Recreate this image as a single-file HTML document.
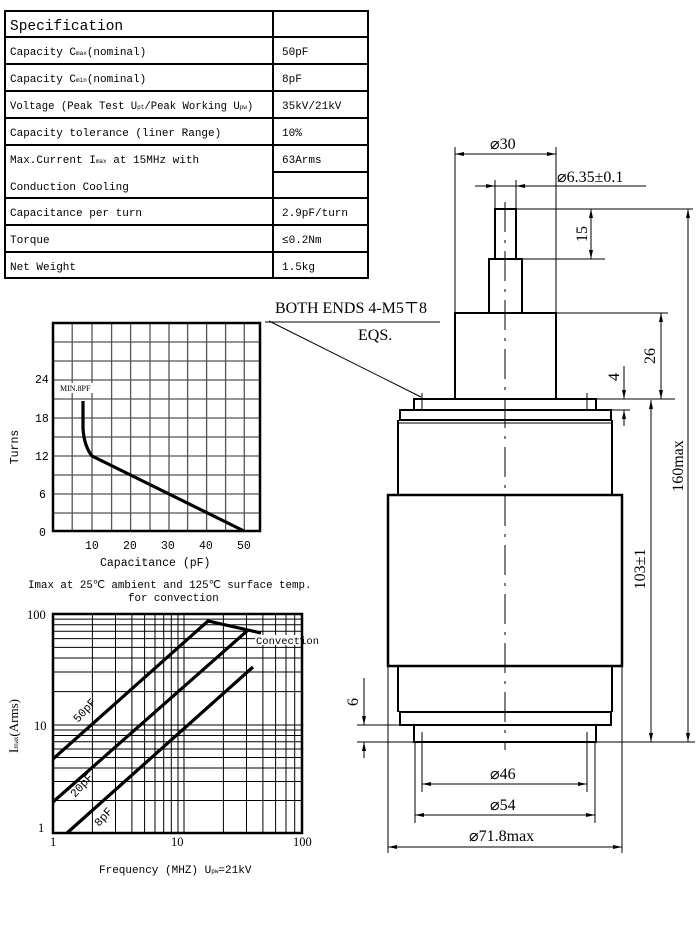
<!DOCTYPE html>
<html><head><meta charset="utf-8"><style>
html,body{margin:0;padding:0;background:#fff;}
svg{display:block;}
.m{font-family:"Liberation Mono","DejaVu Sans Mono",monospace;}
.s{font-family:"Liberation Serif","DejaVu Serif",serif;}
</style></head><body>
<svg width="698" height="927" viewBox="0 0 698 927" xmlns="http://www.w3.org/2000/svg">
<!-- Table -->
<g stroke="#000" stroke-width="2" fill="none">
<rect x="5" y="11" width="363" height="267"/>
<line x1="273" y1="11" x2="273" y2="278"/>
<line x1="5" y1="37" x2="368" y2="37"/>
<line x1="5" y1="64" x2="368" y2="64"/>
<line x1="5" y1="91" x2="368" y2="91"/>
<line x1="5" y1="118" x2="368" y2="118"/>
<line x1="5" y1="145" x2="368" y2="145"/>
<line x1="273" y1="172" x2="368" y2="172"/>
<line x1="5" y1="198" x2="368" y2="198"/>
<line x1="5" y1="225" x2="368" y2="225"/>
<line x1="5" y1="252" x2="368" y2="252"/>
</g>
<g class="m" font-size="11" fill="#000">
<text x="10" y="30" font-size="14.5">Specification</text>
<text x="10" y="55">Capacity C<tspan font-size="6">max</tspan>(nominal)</text>
<text x="10" y="82">Capacity C<tspan font-size="6">min</tspan>(nominal)</text>
<text x="10" y="109" font-size="10.6">Voltage (Peak Test U<tspan font-size="6">pt</tspan>/Peak Working U<tspan font-size="6">pw</tspan>)</text>
<text x="10" y="136">Capacity tolerance (liner Range)</text>
<text x="10" y="163">Max.Current I<tspan font-size="6">max</tspan> at 15MHz with</text>
<text x="10" y="190">Conduction Cooling</text>
<text x="10" y="216">Capacitance per turn</text>
<text x="10" y="243">Torque</text>
<text x="10" y="270">Net Weight</text>
<text x="282" y="55">50pF</text>
<text x="282" y="82">8pF</text>
<text x="282" y="109">35kV/21kV</text>
<text x="282" y="136">10%</text>
<text x="282" y="163">63Arms</text>
<text x="282" y="216">2.9pF/turn</text>
<text x="282" y="243">≤0.2Nm</text>
<text x="282" y="270">1.5kg</text>
</g>

<!-- Chart 1 -->
<g stroke="#555" stroke-width="1.3">
<line x1="72.2" y1="323" x2="72.2" y2="531"/><line x1="92" y1="323" x2="92" y2="531"/>
<line x1="111.6" y1="323" x2="111.6" y2="531"/><line x1="130.6" y1="323" x2="130.6" y2="531"/>
<line x1="150" y1="323" x2="150" y2="531"/><line x1="169" y1="323" x2="169" y2="531"/>
<line x1="187.6" y1="323" x2="187.6" y2="531"/><line x1="206.6" y1="323" x2="206.6" y2="531"/>
<line x1="225.6" y1="323" x2="225.6" y2="531"/><line x1="244.3" y1="323" x2="244.3" y2="531"/>
<line x1="53" y1="342" x2="260" y2="342"/><line x1="53" y1="361" x2="260" y2="361"/>
<line x1="53" y1="380" x2="260" y2="380"/><line x1="53" y1="399" x2="260" y2="399"/>
<line x1="53" y1="418" x2="260" y2="418"/><line x1="53" y1="437" x2="260" y2="437"/>
<line x1="53" y1="456" x2="260" y2="456"/><line x1="53" y1="475" x2="260" y2="475"/>
<line x1="53" y1="494" x2="260" y2="494"/><line x1="53" y1="513" x2="260" y2="513"/>
</g>
<rect x="53" y="323" width="207" height="208" fill="none" stroke="#000" stroke-width="2.5"/>
<rect x="58" y="383" width="40" height="10" fill="#fff"/>
<text x="60" y="391" class="s" font-size="8">MIN.8PF</text>
<path d="M83 401 L83 428 Q84 446 92 456 L244 531" fill="none" stroke="#000" stroke-width="3.2"/>
<g class="m" font-size="11.5" fill="#000">
<text x="35" y="383">24</text><text x="35" y="422">18</text><text x="35" y="460">12</text>
<text x="39" y="498">6</text><text x="39" y="536">0</text>
<text x="85" y="549">10</text><text x="123" y="549">20</text><text x="161" y="549">30</text>
<text x="199" y="549">40</text><text x="237" y="549">50</text>
<text x="100" y="566">Capacitance (pF)</text>
<text x="28" y="588" font-size="10.8">Imax at 25℃ ambient and 125℃ surface temp.</text>
<text x="128" y="601" font-size="10.8">for convection</text>
<text transform="translate(18,447) rotate(-90)" text-anchor="middle">Turns</text>
</g>

<!-- Chart 2 -->
<g stroke="#000" stroke-width="1">
<line x1="92.4" y1="614" x2="92.4" y2="833"/><line x1="115.5" y1="614" x2="115.5" y2="833"/>
<line x1="131.9" y1="614" x2="131.9" y2="833"/><line x1="144.6" y1="614" x2="144.6" y2="833"/>
<line x1="155" y1="614" x2="155" y2="833"/><line x1="163.7" y1="614" x2="163.7" y2="833"/>
<line x1="171.3" y1="614" x2="171.3" y2="833"/><line x1="178" y1="614" x2="178" y2="833"/>
<line x1="184" y1="614" x2="184" y2="833"/><line x1="223.4" y1="614" x2="223.4" y2="833"/>
<line x1="246.5" y1="614" x2="246.5" y2="833"/><line x1="262.9" y1="614" x2="262.9" y2="833"/>
<line x1="275.6" y1="614" x2="275.6" y2="833"/><line x1="286" y1="614" x2="286" y2="833"/>
<line x1="294.7" y1="614" x2="294.7" y2="833"/>
<line x1="53" y1="800.5" x2="302" y2="800.5"/><line x1="53" y1="781.5" x2="302" y2="781.5"/>
<line x1="53" y1="768" x2="302" y2="768"/><line x1="53" y1="757.5" x2="302" y2="757.5"/>
<line x1="53" y1="749" x2="302" y2="749"/><line x1="53" y1="741.7" x2="302" y2="741.7"/>
<line x1="53" y1="735.5" x2="302" y2="735.5"/><line x1="53" y1="730" x2="302" y2="730"/>
<line x1="53" y1="725" x2="302" y2="725"/>
<line x1="53" y1="691.6" x2="302" y2="691.6"/><line x1="53" y1="672" x2="302" y2="672"/>
<line x1="53" y1="658" x2="302" y2="658"/><line x1="53" y1="647.4" x2="302" y2="647.4"/>
<line x1="53" y1="638.6" x2="302" y2="638.6"/><line x1="53" y1="631.2" x2="302" y2="631.2"/>
<line x1="53" y1="624.8" x2="302" y2="624.8"/><line x1="53" y1="619.1" x2="302" y2="619.1"/>
</g>
<rect x="53" y="614" width="249" height="219" fill="none" stroke="#000" stroke-width="2.5"/>
<g stroke="#000" stroke-width="3.2" fill="none">
<path d="M53 759 L208 621 L261 633"/>
<path d="M53 802 L247 631"/>
<path d="M67 833 L253 667"/>
</g>
<rect x="255" y="635" width="45" height="10" fill="#fff"/>
<g class="m" font-size="10.5" fill="#000">
<text x="256" y="644">Convection</text>
<text transform="translate(78,723) rotate(-48)" font-size="11.5">50pF</text>
<text transform="translate(75,798) rotate(-48)" font-size="11.5">20pF</text>
<text transform="translate(99,827) rotate(-48)" font-size="11.5">8pF</text>
<text x="99" y="873" font-size="11">Frequency (MHZ) U<tspan font-size="6">pw</tspan>=21kV</text>
</g>
<g class="s" font-size="12.5" fill="#000">
<text x="27" y="619">100</text><text x="34" y="730">10</text><text x="38" y="832">1</text>
<text x="50" y="846">1</text><text x="171" y="846">10</text><text x="293" y="846">100</text>
<text transform="translate(18,726) rotate(-90)" text-anchor="middle" font-size="13">I<tspan font-size="7">max</tspan>(Arms)</text>
</g>

<!-- Drawing body -->
<g stroke="#000" stroke-width="2" fill="none">
<rect x="495" y="209" width="21" height="50"/>
<rect x="489" y="259" width="33" height="54"/>
<rect x="455" y="313" width="101" height="86"/>
<rect x="414" y="399" width="182" height="11"/>
<rect x="400" y="410" width="211" height="10"/>
<path d="M398 420 L398 495 M612 420 L612 495"/>
<line x1="398" y1="423" x2="612" y2="423" stroke-width="1"/>
<rect x="388" y="495" width="234" height="171" stroke-width="2.5"/>
<path d="M398 666 L398 712 M612 666 L612 712"/>
<rect x="400" y="712" width="211" height="13"/>
<rect x="414" y="725" width="182" height="17"/>
</g>
<!-- center line -->
<line x1="505" y1="202" x2="505" y2="750" stroke="#000" stroke-width="1" stroke-dasharray="30,8,3,8"/>

<!-- dimensions -->
<g stroke="#000" stroke-width="1" fill="none">
<line x1="455" y1="147" x2="455" y2="313"/><line x1="556" y1="147" x2="556" y2="313"/>
<line x1="455" y1="154" x2="556" y2="154"/>
<line x1="475" y1="186" x2="646" y2="186"/>
<line x1="495" y1="180" x2="495" y2="209"/><line x1="516" y1="180" x2="516" y2="209"/>
<line x1="516" y1="209" x2="693" y2="209"/>
<line x1="522" y1="259" x2="605" y2="259"/>
<line x1="591" y1="209" x2="591" y2="259"/>
<line x1="688" y1="209" x2="688" y2="742"/>
<line x1="556" y1="313" x2="668" y2="313"/>
<line x1="661" y1="313" x2="661" y2="399"/>
<line x1="596" y1="399" x2="675" y2="399"/>
<line x1="611" y1="410" x2="630" y2="410"/>
<line x1="624" y1="366" x2="624" y2="399"/><line x1="624" y1="410" x2="624" y2="426"/>
<line x1="651" y1="400" x2="651" y2="742"/>
<line x1="357" y1="742" x2="695" y2="742"/>
<line x1="357" y1="725" x2="400" y2="725"/>
<line x1="364" y1="678" x2="364" y2="725"/><line x1="364" y1="742" x2="364" y2="758"/>
<line x1="422" y1="732" x2="422" y2="792"/><line x1="587" y1="732" x2="587" y2="792"/>
<line x1="422" y1="784" x2="587" y2="784"/>
<line x1="415" y1="742" x2="415" y2="823"/><line x1="595" y1="742" x2="595" y2="823"/>
<line x1="415" y1="815" x2="595" y2="815"/>
<line x1="388" y1="666" x2="388" y2="853"/><line x1="622" y1="666" x2="622" y2="853"/>
<line x1="388" y1="847" x2="622" y2="847"/>
<line x1="265" y1="322" x2="440" y2="322"/>
<line x1="269" y1="321" x2="421" y2="397"/>
<line x1="422" y1="393" x2="422" y2="410"/><line x1="587" y1="393" x2="587" y2="410"/>
</g>
<!-- arrowheads -->
<g fill="#000">
<path d="M455 154 l9 -2 v4z"/><path d="M556 154 l-9 -2 v4z"/>
<path d="M495 186 l-9 -2 v4z"/><path d="M516 186 l9 -2 v4z"/>
<path d="M591 209 l-2 9 h4z"/><path d="M591 259 l-2 -9 h4z"/>
<path d="M688 209 l-2 9 h4z"/><path d="M688 742 l-2 -9 h4z"/>
<path d="M661 313 l-2 9 h4z"/><path d="M661 399 l-2 -9 h4z"/>
<path d="M624 399 l-2 -9 h4z"/><path d="M624 410 l-2 9 h4z"/>
<path d="M651 400 l-2 9 h4z"/><path d="M651 742 l-2 -9 h4z"/>
<path d="M364 725 l-2 -9 h4z"/><path d="M364 742 l-2 9 h4z"/>
<path d="M422 784 l9 -2 v4z"/><path d="M587 784 l-9 -2 v4z"/>
<path d="M415 815 l9 -2 v4z"/><path d="M595 815 l-9 -2 v4z"/>
<path d="M388 847 l9 -2 v4z"/><path d="M622 847 l-9 -2 v4z"/>
</g>
<g class="s" font-size="16" fill="#000">
<text x="490" y="149">⌀30</text>
<text x="557" y="182">⌀6.35±0.1</text>
<text transform="translate(587,234) rotate(-90)" text-anchor="middle">15</text>
<text transform="translate(655,356) rotate(-90)" text-anchor="middle">26</text>
<text transform="translate(619,377) rotate(-90)" text-anchor="middle">4</text>
<text transform="translate(683,466) rotate(-90)" text-anchor="middle">160max</text>
<text transform="translate(645,569) rotate(-90)" text-anchor="middle">103±1</text>
<text transform="translate(358,702) rotate(-90)" text-anchor="middle">6</text>
<text x="490" y="779">⌀46</text>
<text x="490" y="810">⌀54</text>
<text x="469" y="841">⌀71.8max</text>
<text x="275" y="313">BOTH ENDS 4-M5⊤8</text>
<text x="358" y="340">EQS.</text>
</g>
</svg>
</body></html>
